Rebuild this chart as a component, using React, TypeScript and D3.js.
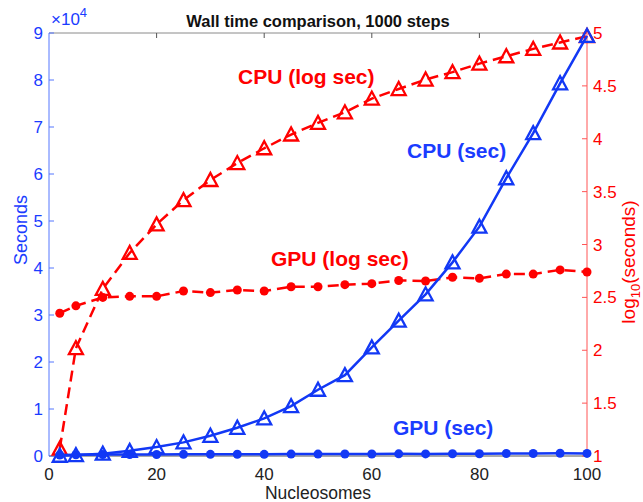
import React from "react";
import * as d3 from "d3";

const nucleosomes = [2, 5, 10, 15, 20, 25, 30, 35, 40, 45, 50, 55, 60, 65, 70, 75, 80, 85, 90, 95, 100];
const cpuSec = [50, 200, 500, 1100, 1900, 2900, 4300, 6000, 8000, 10600, 14100, 17200, 23100, 28800, 34400, 41200, 48800, 59100, 68700, 79300, 89400];
const gpuSec = [220, 260, 320, 320, 320, 360, 350, 370, 360, 400, 410, 420, 430, 460, 450, 490, 480, 520, 520, 580, 550];
const cpuLog = [1.07, 2.02, 2.58, 2.92, 3.19, 3.42, 3.61, 3.77, 3.91, 4.04, 4.15, 4.25, 4.38, 4.47, 4.56, 4.63, 4.71, 4.78, 4.85, 4.91, 4.97];
const gpuLog = [2.35, 2.42, 2.5, 2.51, 2.51, 2.56, 2.545, 2.57, 2.56, 2.6, 2.6, 2.62, 2.63, 2.66, 2.655, 2.69, 2.68, 2.72, 2.72, 2.76, 2.74];
const xTicks = [0, 20, 40, 60, 80, 100];
const leftTicks = [0, 1, 2, 3, 4, 5, 6, 7, 8, 9];
const rightTicks = [1, 1.5, 2, 2.5, 3, 3.5, 4, 4.5, 5];

const W = 643, H = 502;
const L = 49, R = 587, T = 33, B = 456;
const BLUE = "#1238f5";
const BLUE_TXT = "#1a3cff";
const RED = "#ff0000";
const FONT = "'Liberation Sans', Arial, Helvetica, sans-serif";

function tri(cx: number, cy: number) {
  return `M${cx - 7},${cy + 6}L${cx + 7},${cy + 6}L${cx},${cy - 7}Z`;
}

export default function App() {
  const x = d3.scaleLinear().domain([0, 100]).range([L, R]);
  const yL = d3.scaleLinear().domain([0, 90000]).range([B, T]);
  const yR = d3.scaleLinear().domain([1, 5]).range([B, T]);

  const pts = (ys: number[], sc: d3.ScaleLinear<number, number>) =>
    nucleosomes.map((n, i) => [x(n), sc(ys[i])] as [number, number]);
  const line = d3.line();

  const cpuSecP = pts(cpuSec, yL);
  const gpuSecP = pts(gpuSec, yL);
  const cpuLogP = pts(cpuLog, yR);
  const gpuLogP = pts(gpuLog, yR);

  return (
    <svg width={W} height={H} style={{ position: "absolute", left: 0, top: 0, background: "#fff" }} fontFamily={FONT}>
      <rect x={0} y={0} width={W} height={H} fill="#fff" />
      {/* box lines */}
      <line x1={L} x2={R} y1={T} y2={T} stroke="#8a8a8a" strokeWidth={1} />
      <line x1={L} x2={R} y1={B} y2={B} stroke="#555" strokeWidth={1} />
      {xTicks.slice(1, -1).map((t) => (
        <g key={"xt" + t}>
          <line x1={x(t)} x2={x(t)} y1={T} y2={T + 5} stroke="#555" />
          <line x1={x(t)} x2={x(t)} y1={B} y2={B - 5} stroke="#555" />
        </g>
      ))}
      <line x1={L} x2={L} y1={T} y2={B} stroke="#5577ff" strokeWidth={1} />
      <line x1={R} x2={R} y1={T} y2={B} stroke="#ff5555" strokeWidth={1} />
      {leftTicks.map((t) => (
        <g key={"lt" + t}>
          <line x1={L} x2={L + 5} y1={yL(t * 10000)} y2={yL(t * 10000)} stroke="#5577ff" />
          <text x={43} y={yL(t * 10000) + 6} textAnchor="end" fontSize={17} fill={BLUE_TXT}>{t}</text>
        </g>
      ))}
      {rightTicks.map((t) => (
        <g key={"rt" + t}>
          <line x1={R} x2={R - 5} y1={yR(t)} y2={yR(t)} stroke="#ff5555" />
          <text x={593} y={yR(t) + 6} textAnchor="start" fontSize={17} fill={RED}>{t}</text>
        </g>
      ))}
      {xTicks.map((t) => (
        <text key={"xl" + t} x={x(t)} y={480} textAnchor="middle" fontSize={17} fill="#222">{t}</text>
      ))}
      <text x={(L + R) / 2} y={499} textAnchor="middle" fontSize={17.5} fill="#222">Nucleosomes</text>
      <text transform={`translate(27,230) rotate(-90)`} textAnchor="middle" fontSize={18} fill={BLUE_TXT}>Seconds</text>
      <text transform={`translate(635,262) rotate(-90)`} textAnchor="middle" fontSize={19} fill={RED}>
        log<tspan fontSize={13} dy={5}>10</tspan><tspan dy={-5}>(seconds)</tspan>
      </text>
      <text x={51} y={25} fontSize={17} fill={BLUE_TXT}>×10<tspan fontSize={13} dy={-8}>4</tspan></text>
      <text x={(L + R) / 2} y={27} textAnchor="middle" fontSize={16.5} fontWeight="bold" fill="#111">Wall time comparison, 1000 steps</text>

      {/* red series */}
      <path d={line(gpuLogP) || ""} fill="none" stroke={RED} strokeWidth={2.5} strokeDasharray="11,6" />
      {gpuLogP.map(([px, py], i) => (
        <circle key={"gl" + i} cx={px} cy={py} r={4.5} fill={RED} />
      ))}
      <path d={line(cpuLogP) || ""} fill="none" stroke={RED} strokeWidth={2.5} strokeDasharray="11,6" />
      {cpuLogP.map(([px, py], i) => (
        <path key={"cl" + i} d={tri(px, py)} fill="none" stroke={RED} strokeWidth={2.3} />
      ))}
      {/* blue series */}
      <path d={line(gpuSecP) || ""} fill="none" stroke={BLUE} strokeWidth={2.5} />
      {gpuSecP.map(([px, py], i) => (
        <circle key={"gs" + i} cx={px} cy={py} r={4.5} fill={BLUE} />
      ))}
      <path d={line(cpuSecP) || ""} fill="none" stroke={BLUE} strokeWidth={2.5} />
      {cpuSecP.map(([px, py], i) => (
        <path key={"cs" + i} d={tri(px, py)} fill="none" stroke={BLUE} strokeWidth={2.3} />
      ))}

      {/* annotations */}
      <text x={238} y={84} fontSize={21} fontWeight="bold" fill={RED}>CPU (log sec)</text>
      <text x={407} y={158} fontSize={21} fontWeight="bold" fill={BLUE_TXT}>CPU (sec)</text>
      <text x={271} y={266} fontSize={21} fontWeight="bold" fill={RED}>GPU (log sec)</text>
      <text x={393} y={435} fontSize={21} fontWeight="bold" fill={BLUE_TXT}>GPU (sec)</text>
    </svg>
  );
}
